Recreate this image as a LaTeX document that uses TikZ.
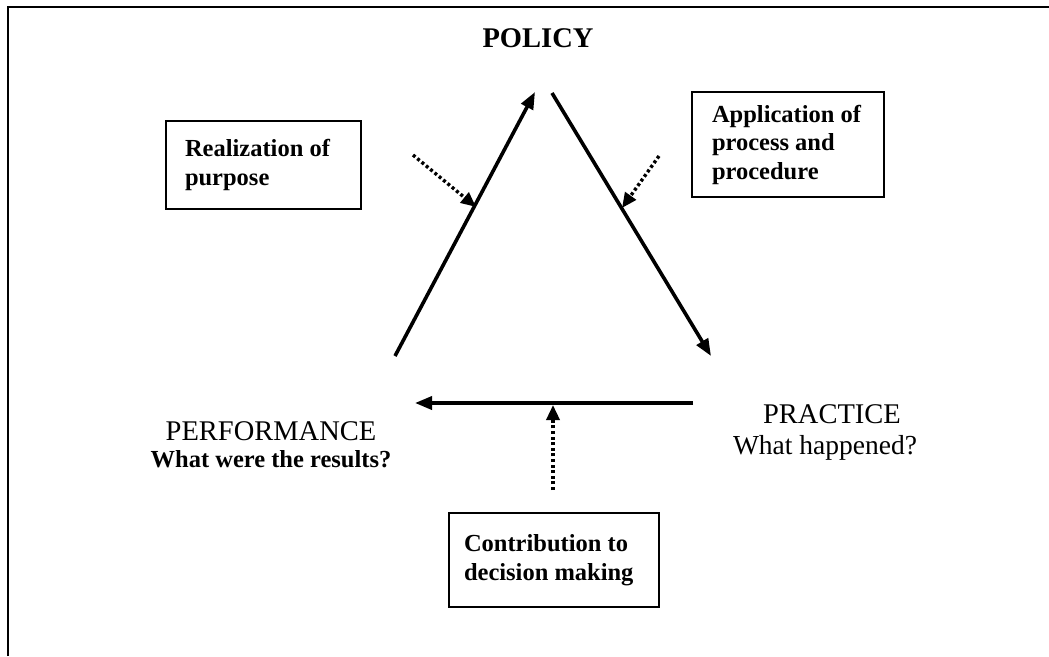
\documentclass[tikz,border=0pt]{standalone}
\usepackage{fontspec}
\setmainfont{Liberation Serif}
\usetikzlibrary{arrows.meta}
\begin{document}
\begin{tikzpicture}[x=1pt,y=-1pt,
  frame/.style={line width=2pt},
  flow/.style={line width=3.6pt, -{Triangle[length=17pt,width=13pt]}},
  dotflow/.style={line width=3.4pt, dash pattern=on 3pt off 2.6pt,
                  -{Triangle[length=15pt,width=13pt]}},
  note/.style={draw, line width=2pt, align=flush left, inner ysep=0pt,
               font=\fontsize{24.5}{28.5}\selectfont\bfseries},
  heading/.style={anchor=base, inner sep=0pt},
  ]
\useasboundingbox (0,0) rectangle (1049,656);

% open frame: top and left edges only
\draw[frame] (8,656) -- (8,7) -- (1049,7);

% corner labels
\node[heading, font=\fontsize{28.5}{30}\selectfont\bfseries] (policy) at (538,47) {POLICY};
\node[heading, font=\fontsize{28.5}{30}\selectfont] (perf) at (271,440) {PERFORMANCE};
\node[heading, font=\fontsize{24.5}{28}\selectfont\bfseries] (perfq) at (271,467) {What were the results?};
\node[heading, font=\fontsize{28.5}{30}\selectfont] (prac) at (832,423) {PRACTICE};
\node[heading, font=\fontsize{27.5}{30}\selectfont] (pracq) at (825,454) {What happened?};

% boxed notes
\node[note, inner xsep=19pt, text width=157pt, minimum height=88pt] (real) at (263.5,165)
  {Realization of\\purpose};
\node[note, inner xsep=20pt, text width=152pt, minimum height=105pt] (appl) at (788,144.5)
  {Application of\\process and\\procedure};
\node[note, inner xsep=15pt, text width=180pt, minimum height=94pt] (contr) at (554,560)
  {Contribution to\\decision making};

% ends of the cycle arrows
\coordinate (perfEnd) at (395,356);
\coordinate (polL) at (535,92);
\coordinate (polR) at (552,93);
\coordinate (pracEnd) at (711,356);
\coordinate (pracH) at (693,403);
\coordinate (perfH) at (415,403);

% ends of the dotted influence arrows
\coordinate (dRealStart) at (413,155);
\coordinate (dRealTip) at (476,207);
\coordinate (dApplStart) at (659,156);
\coordinate (dApplTip) at (622,208);
\coordinate (dContStart) at (553,490);
\coordinate (dContTip) at (553,405);

% cycle: performance -> policy -> practice -> performance
\draw[flow] (perfEnd) -- (polL);
\draw[flow] (polR) -- (pracEnd);
\draw[flow] (pracH) -- (perfH);

% influences on each side of the cycle
\draw[dotflow] (dRealStart) -- (dRealTip);
\draw[dotflow] (dApplStart) -- (dApplTip);
\draw[dotflow] (dContStart) -- (dContTip);
\end{tikzpicture}
\end{document}
